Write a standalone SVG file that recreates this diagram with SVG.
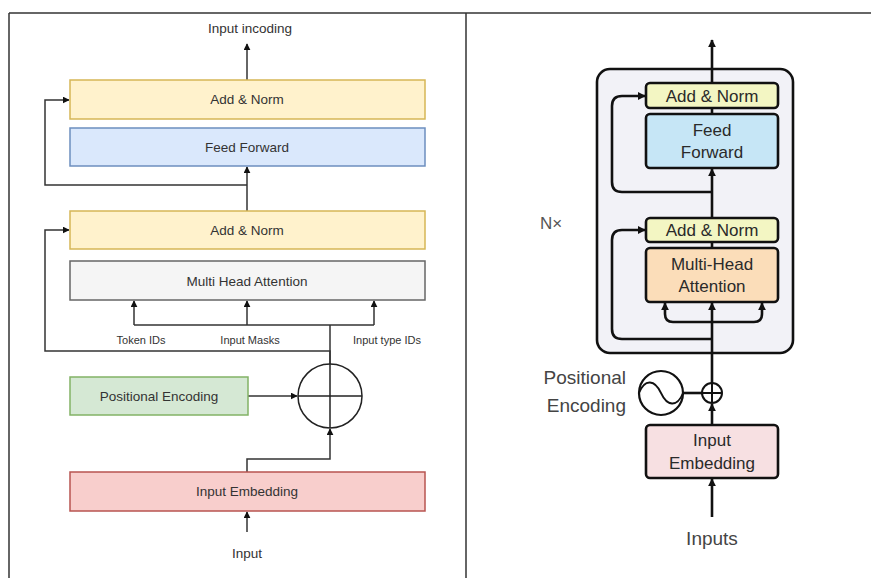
<svg xmlns="http://www.w3.org/2000/svg" width="871" height="578" viewBox="0 0 871 578">
<style>
.t{font-family:"Liberation Sans",Arial,sans-serif;fill:#333;text-anchor:middle}
.l{font-size:13.5px}
.s{font-size:11px}
.r{font-size:17px;fill:#2a2a2a}
.ln{fill:none;stroke:#333;stroke-width:1.5}
.rl{fill:none;stroke:#111;stroke-width:2.6}
.rb{stroke:#111;stroke-width:2.6}
</style>
<defs>
<marker id="a" viewBox="0 0 10 10" refX="9" refY="5" markerWidth="7" markerHeight="7" markerUnits="userSpaceOnUse" orient="auto"><path d="M0,0 L10,5 L0,10 z" fill="#111"/></marker>
<marker id="b" viewBox="0 0 10 10" refX="9" refY="5" markerWidth="8" markerHeight="8" markerUnits="userSpaceOnUse" orient="auto"><path d="M0,0 L10,5 L0,10 z" fill="#111"/></marker>
</defs>
<rect width="871" height="578" fill="#fff"/>
<g id="frame" fill="none" stroke="#333" stroke-width="1.5">
<line x1="9" y1="13" x2="871" y2="13"/>
<line x1="9" y1="13" x2="9" y2="578"/>
<line x1="466" y1="13" x2="466" y2="578"/>
</g>
<g id="encoder"><rect x="597" y="69" width="196" height="284" rx="13" fill="#f2f2f7" class="rb"/></g>
<g id="connectors">
<line class="ln" x1="247" y1="80" x2="247" y2="44" marker-end="url(#a)"/>
<line class="ln" x1="247" y1="211" x2="247" y2="167" marker-end="url(#a)"/>
<polyline class="ln" points="247,185 45,185 45,100 69,100" marker-end="url(#a)"/>
<polyline class="ln" points="330,364 330,351 45,351 45,230 69,230" marker-end="url(#a)"/>
<polyline class="ln" points="134,325 374,325"/>
<line class="ln" x1="330" y1="325" x2="330" y2="364"/>
<line class="ln" x1="134" y1="325" x2="134" y2="301" marker-end="url(#a)"/>
<line class="ln" x1="247" y1="325" x2="247" y2="301" marker-end="url(#a)"/>
<line class="ln" x1="374" y1="325" x2="374" y2="301" marker-end="url(#a)"/>
<line class="ln" x1="248" y1="396" x2="297" y2="396" marker-end="url(#a)"/>
<polyline class="ln" points="247,472 247,459 330,459 330,429" marker-end="url(#a)"/>
<line class="ln" x1="247" y1="532" x2="247" y2="512" marker-end="url(#a)"/>
<line class="rl" x1="712" y1="83" x2="712" y2="40" marker-end="url(#b)"/>
<line class="rl" x1="712" y1="114" x2="712" y2="108"/>
<line class="rl" x1="712" y1="218" x2="712" y2="169" marker-end="url(#b)"/>
<path class="rl" d="M712,192 H622 Q612,192 612,182 V106 Q612,96 622,96 H645" marker-end="url(#b)"/>
<line class="rl" x1="712" y1="248" x2="712" y2="242"/>
<line class="rl" x1="712" y1="383" x2="712" y2="303" marker-end="url(#b)"/>
<path class="rl" d="M712,322 H673 Q665,322 665,314 V303" marker-end="url(#b)"/>
<path class="rl" d="M712,322 H754 Q762,322 762,314 V303" marker-end="url(#b)"/>
<path class="rl" d="M712,339 H622 Q612,339 612,329 V240 Q612,230 622,230 H645" marker-end="url(#b)"/>
<line class="rl" x1="683" y1="393" x2="702" y2="393"/>
<line class="rl" x1="712" y1="425" x2="712" y2="404" marker-end="url(#b)"/>
<line class="rl" x1="712" y1="517" x2="712" y2="479" marker-end="url(#b)"/>
</g>
<g id="lbl-out"><text class="t l" x="250" y="33">Input incoding</text></g>
<g id="addnorm1"><rect x="70" y="80" width="355" height="39" fill="#fff2cc" stroke="#d6b656" stroke-width="1.5"/><text class="t l" x="247" y="104">Add &amp; Norm</text></g>
<g id="ff1"><rect x="70" y="128" width="355" height="38" fill="#dae8fc" stroke="#6c8ebf" stroke-width="1.5"/><text class="t l" x="247" y="152">Feed Forward</text></g>
<g id="addnorm2"><rect x="70" y="211" width="355" height="38" fill="#fff2cc" stroke="#d6b656" stroke-width="1.5"/><text class="t l" x="247" y="235">Add &amp; Norm</text></g>
<g id="mha1"><rect x="70" y="261" width="355" height="39" fill="#f5f5f5" stroke="#666" stroke-width="1.5"/><text class="t l" x="247" y="286">Multi Head Attention</text></g>
<g id="lbls"><text class="t s" x="141" y="344">Token IDs</text><text class="t s" x="250" y="344">Input Masks</text><text class="t s" x="387" y="344">Input type IDs</text></g>
<g id="pe1"><rect x="70" y="377" width="178" height="38" fill="#d5e8d4" stroke="#82b366" stroke-width="1.5"/><text class="t l" x="159" y="401">Positional Encoding</text></g>
<g id="sum1" fill="none" stroke="#222" stroke-width="1.5"><circle cx="330" cy="396" r="32"/><line x1="298" y1="396" x2="362" y2="396"/><line x1="330" y1="364" x2="330" y2="428"/></g>
<g id="emb1"><rect x="70" y="472" width="355" height="39" fill="#f8cecc" stroke="#b85450" stroke-width="1.5"/><text class="t l" x="247" y="496">Input Embedding</text></g>
<g id="lbl-in"><text class="t l" x="247" y="558">Input</text></g>
<g id="nx"><text class="t r" x="551" y="229" style="fill:#555">N×</text></g>
<g id="addnorm3"><rect x="646" y="83" width="132" height="25" rx="4" fill="#f3f6c3" class="rb"/><text class="t r" x="712" y="102">Add &amp; Norm</text></g>
<g id="ff2"><rect x="646" y="114" width="132" height="54" rx="4" fill="#c6e6f6" class="rb"/><text class="t r" x="712" y="136">Feed</text><text class="t r" x="712" y="158">Forward</text></g>
<g id="addnorm4"><rect x="646" y="218" width="132" height="24" rx="4" fill="#f3f6c3" class="rb"/><text class="t r" x="712" y="236">Add &amp; Norm</text></g>
<g id="mha2"><rect x="646" y="248" width="132" height="54" rx="4" fill="#fbddb9" class="rb"/><text class="t r" x="712" y="270">Multi-Head</text><text class="t r" x="712" y="292">Attention</text></g>
<g id="pe2"><text class="t r" x="626" y="384" style="text-anchor:end;font-size:19px;fill:#444">Positional</text><text class="t r" x="626" y="412" style="text-anchor:end;font-size:19px;fill:#444">Encoding</text><circle cx="661" cy="393" r="22" fill="#fff" stroke="#111" stroke-width="2.2"/><path d="M639,393 C645,378 655,380 661,393 C667,406 677,408 683,393" fill="none" stroke="#111" stroke-width="1.8"/></g>
<g id="sum2" fill="#fff" stroke="#111" stroke-width="2"><circle cx="712" cy="393" r="10"/><line x1="702" y1="393" x2="722" y2="393"/><line x1="712" y1="383" x2="712" y2="403"/></g>
<g id="emb2"><rect x="646" y="425" width="132" height="53" rx="4" fill="#f7e0e2" class="rb"/><text class="t r" x="712" y="446">Input</text><text class="t r" x="712" y="469">Embedding</text></g>
<g id="lbl-inputs"><text class="t r" x="712" y="545" style="font-size:19px;fill:#444">Inputs</text></g>
</svg>
